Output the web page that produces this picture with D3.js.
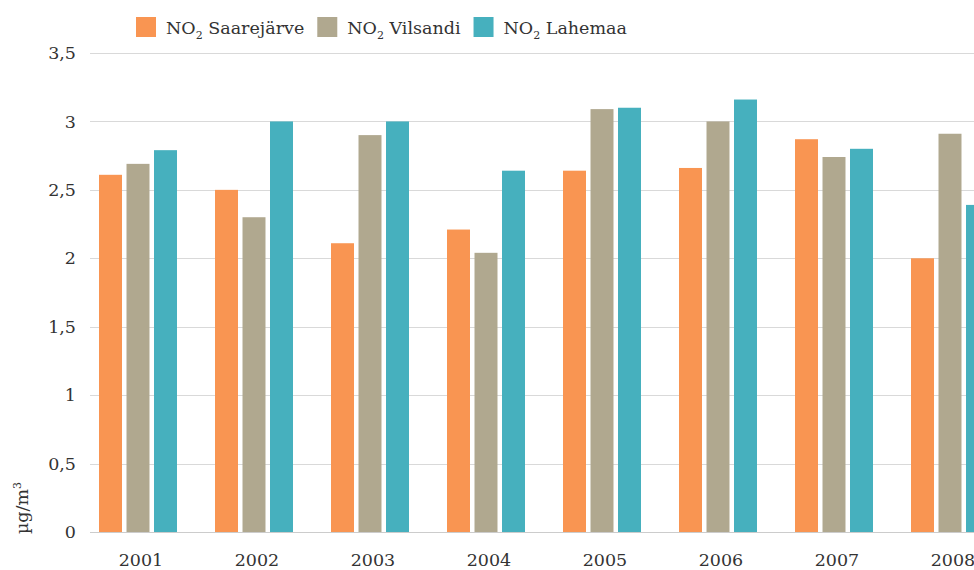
<!DOCTYPE html>
<html>
<head>
<meta charset="utf-8">
<script src="https://cdn.jsdelivr.net/npm/d3@7"></script>
<style>
  body { margin: 0; background: #fff; }
  text { font-family: "DejaVu Serif", "Liberation Serif", serif; fill: #333; }
</style>
</head>
<body>
<div id="chart"></div>
<script>
const years = ["2001", "2002", "2003", "2004", "2005", "2006", "2007", "2008"];
const seriesNames = ["Saarejärve", "Vilsandi", "Lahemaa"];
const saarejarve = [2.61, 2.50, 2.11, 2.21, 2.64, 2.66, 2.87, 2.00];
const vilsandi = [2.69, 2.30, 2.90, 2.04, 3.09, 3.00, 2.74, 2.91];
const lahemaa = [2.79, 3.00, 3.00, 2.64, 3.10, 3.16, 2.80, 2.39];
const yTicks = [0, 0.5, 1, 1.5, 2, 2.5, 3, 3.5];
const colors = ["#f99552", "#b0a88f", "#46b0be"];

const values = [saarejarve, vilsandi, lahemaa];
const width = 974, height = 570;

const svg = d3.select("#chart")
    .append("svg")
    .attr("width", width)
    .attr("height", height);

// grupid
const x = d3.scaleBand()
    .domain(years)
    .range([80, 80 + 116 * years.length]);

const x1 = d3.scaleBand()
    .domain(seriesNames)
    .range([19, 97])
    .paddingInner(0.164);

const y = d3.scaleLinear()
    .domain([0, 3.5])
    .range([532, 53]);

// ruudustik
svg.append("g")
    .selectAll("line")
    .data(yTicks.slice(1))
    .enter()
    .append("line")
    .attr("x1", 90)
    .attr("x2", width)
    .attr("y1", d => Math.round(y(d)) + 0.5)
    .attr("y2", d => Math.round(y(d)) + 0.5)
    .attr("stroke", "#d9d9d9");

// y telg
const yAxis = svg.append("g")
    .attr("transform", "translate(90,0)")
    .call(d3.axisLeft(y)
        .tickValues(yTicks)
        .tickSize(0)
        .tickPadding(14)
        .tickFormat(d => String(d).replace(".", ",")));
yAxis.select(".domain").remove();
yAxis.selectAll("text")
    .attr("font-size", 17.5)
    .attr("font-family", null)
    .attr("fill", "#333");

// tulbad
years.forEach((yr, i) => {
    svg.append("g")
        .selectAll("rect")
        .data(seriesNames.map((s, j) => ({ s: s, v: values[j][i], c: colors[j] })))
        .enter()
        .append("rect")
        .attr("x", d => x(yr) + x1(d.s))
        .attr("y", d => y(d.v))
        .attr("width", x1.bandwidth())
        .attr("height", d => y(0) - y(d.v))
        .attr("fill", d => d.c);
});

// x telg
svg.append("line")
    .attr("x1", 90)
    .attr("x2", width)
    .attr("y1", 532.5)
    .attr("y2", 532.5)
    .attr("stroke", "#cccccc");

svg.append("g")
    .selectAll("text")
    .data(years)
    .enter()
    .append("text")
    .attr("x", d => x(d) + 61)
    .attr("y", 566)
    .attr("text-anchor", "middle")
    .attr("font-size", 17.5)
    .text(d => d);

// y telje pealkiri
const yt = svg.append("text")
    .attr("transform", "translate(28,508) rotate(-90)")
    .attr("text-anchor", "middle")
    .attr("font-size", 17.5);
yt.append("tspan").text("µg/m");
yt.append("tspan").attr("font-size", 11).attr("dy", -7).text("3");

// legend
let lx = 136;
seriesNames.forEach((s, j) => {
    svg.append("rect")
        .attr("x", lx)
        .attr("y", 17)
        .attr("width", 20)
        .attr("height", 20)
        .attr("fill", colors[j]);
    const t = svg.append("text")
        .attr("x", lx + 30)
        .attr("y", 34)
        .attr("font-size", 17.5);
    t.append("tspan").text("NO");
    t.append("tspan").attr("font-size", 11).attr("dy", 5).text("2");
    t.append("tspan").attr("dy", -5).text(" " + s);
    lx += 30 + t.node().getComputedTextLength() + 13;
});
</script>
</body>
</html>
